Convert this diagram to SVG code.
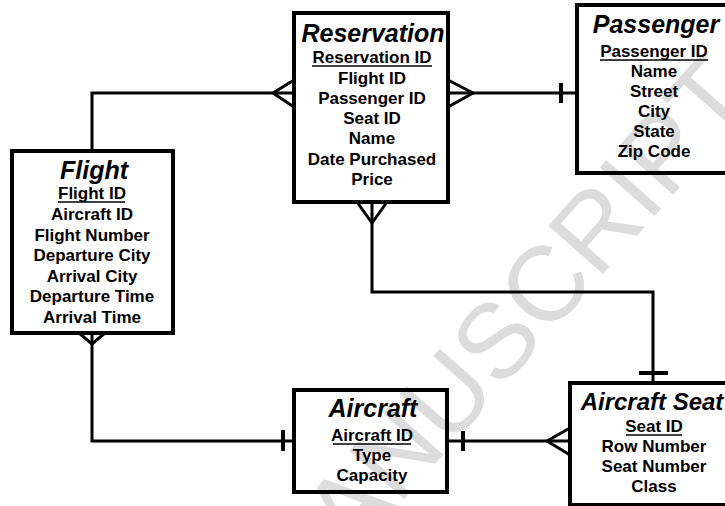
<svg xmlns="http://www.w3.org/2000/svg" width="725" height="506" viewBox="0 0 725 506">
<style>
.box{fill:none;stroke:#000;stroke-width:4}
.t{font-family:"Liberation Sans",Arial,sans-serif;font-weight:bold;font-style:italic;font-size:25px;text-anchor:middle;fill:#000}
.a{font-family:"Liberation Sans",Arial,sans-serif;font-weight:bold;font-size:17px;text-anchor:middle;fill:#000}
.ul{stroke:#000;stroke-width:1.6}
.c{fill:none;stroke:#000;stroke-width:3;stroke-linejoin:miter}
.bar{stroke:#000;stroke-width:4}
.wm{font-family:"Liberation Sans",Arial,sans-serif;font-size:106px;fill:#dcdcdc}
</style>
<rect x="0" y="0" width="725" height="506" fill="#fff"/>
<g id="watermark">
<text class="wm" transform="translate(-109,1079) rotate(-48.5)">ACCEPTED MANUSCRIPT</text>
</g>
<g id="connectors">
<path class="c" d="M294,93 H92 V151"/>
<path class="c" d="M294,80 L273,93 L294,107"/>
<path class="c" d="M448,93 H577"/>
<path class="c" d="M448,80 L473,93 L448,107"/>
<line class="bar" x1="561" y1="83" x2="561" y2="103"/>
<path class="c" d="M372,202 V292 H653 V383"/>
<path class="c" d="M357,202 L372,223 L387,202"/>
<line class="bar" x1="639" y1="373" x2="668" y2="373"/>
<path class="c" d="M92,333 V441 H294"/>
<path class="c" d="M79,333 L92,344 L105,333"/>
<line class="bar" x1="283" y1="430" x2="283" y2="451"/>
<path class="c" d="M447,441 H570"/>
<path class="c" d="M570,428 L547,441 L570,455"/>
<line class="bar" x1="463" y1="431" x2="463" y2="451"/>
</g>
<g id="reservation">
<rect class="box" x="294" y="13" width="154" height="189"/>
<text class="t" x="373" y="42">Reservation</text>
<text class="a" x="372" y="63">Reservation ID</text>
<line class="ul" x1="312" y1="66" x2="432" y2="66"/>
<text class="a" x="372" y="84">Flight ID</text>
<text class="a" x="372" y="104">Passenger ID</text>
<text class="a" x="372" y="124">Seat ID</text>
<text class="a" x="372" y="144">Name</text>
<text class="a" x="372" y="165">Date Purchased</text>
<text class="a" x="372" y="185">Price</text>
</g>
<g id="passenger">
<rect class="box" x="577" y="5" width="160" height="168"/>
<text class="t" x="656" y="33">Passenger</text>
<text class="a" x="654" y="57">Passenger ID</text>
<line class="ul" x1="600" y1="60" x2="708" y2="60"/>
<text class="a" x="654" y="77">Name</text>
<text class="a" x="654" y="97">Street</text>
<text class="a" x="654" y="117">City</text>
<text class="a" x="654" y="137">State</text>
<text class="a" x="654" y="157">Zip Code</text>
</g>
<g id="flight">
<rect class="box" x="12" y="151" width="161" height="182"/>
<text class="t" x="94" y="179">Flight</text>
<text class="a" x="92" y="199">Flight ID</text>
<line class="ul" x1="58" y1="202" x2="125" y2="202"/>
<text class="a" x="92" y="220">Aircraft ID</text>
<text class="a" x="92" y="241">Flight Number</text>
<text class="a" x="92" y="261">Departure City</text>
<text class="a" x="92" y="282">Arrival City</text>
<text class="a" x="92" y="302">Departure Time</text>
<text class="a" x="92" y="323">Arrival Time</text>
</g>
<g id="aircraft">
<rect class="box" x="294" y="390" width="153" height="102"/>
<text class="t" x="373" y="417">Aircraft</text>
<text class="a" x="372" y="441">Aircraft ID</text>
<line class="ul" x1="333" y1="444" x2="411" y2="444"/>
<text class="a" x="372" y="461">Type</text>
<text class="a" x="372" y="481">Capacity</text>
</g>
<g id="aircraft-seat">
<rect class="box" x="570" y="383" width="170" height="122"/>
<text class="t" x="652" y="410" style="font-size:24px">Aircraft Seat</text>
<text class="a" x="654" y="432">Seat ID</text>
<line class="ul" x1="626" y1="435" x2="682" y2="435"/>
<text class="a" x="654" y="452">Row Number</text>
<text class="a" x="654" y="472">Seat Number</text>
<text class="a" x="654" y="492">Class</text>
</g>
</svg>
